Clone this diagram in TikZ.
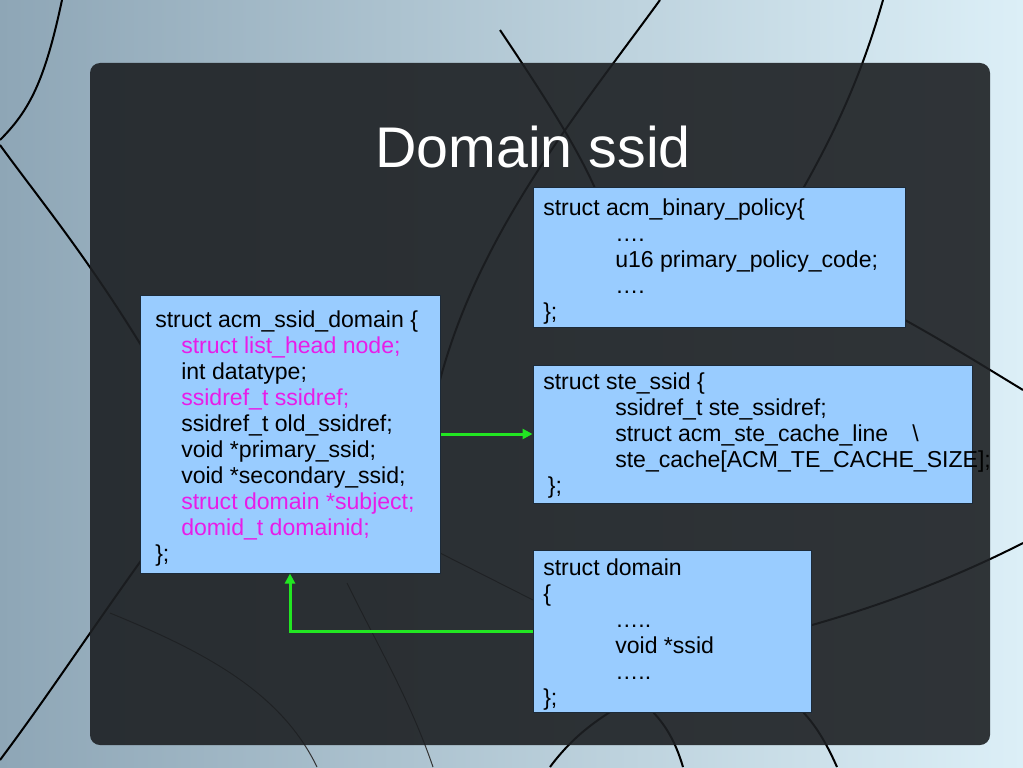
\documentclass[tikz,border=0pt]{standalone}
\usepackage{fontspec}
\setmainfont{Liberation Sans}
\usetikzlibrary{arrows.meta}
\definecolor{bgL}{HTML}{8EA6B6}
\definecolor{bgR}{HTML}{DCEFF7}
\definecolor{panelc}{HTML}{1D2023}
\definecolor{boxfill}{HTML}{99CCFF}
\definecolor{boxline}{HTML}{1C2A38}
\definecolor{arrowgreen}{HTML}{22E622}
\definecolor{hl}{HTML}{E81CE8}
\begin{document}
\begin{tikzpicture}[x=0.75pt,y=-0.75pt,
  curve/.style={line width=1.5pt,black},
  thincurve/.style={line width=0.75pt,black!80},
  panel/.style={fill=panelc,fill opacity=0.9,rounded corners=7.5pt},
  structbox/.style={draw=boxline,line width=0.75pt,fill=boxfill,inner sep=0pt,rectangle},
  code/.style={anchor=base west,inner sep=0pt,text=black,font=\fontsize{17.3}{19.5}\selectfont},
  link/.style={draw=arrowgreen,line width=2.25pt,-{Triangle[length=7.5pt,width=7.5pt]}},
  title/.style={text=white,font=\fontsize{43}{50}\selectfont,anchor=base,inner sep=0pt}
]
\useasboundingbox (0,0) rectangle (1023,767);
% background
\fill[left color=bgL,right color=bgR] (0,0) rectangle (1023,767);
% decorative curves
\draw[curve] (62,0) .. controls (45,80) and (30,110) .. (0,140);
\draw[curve] (0,145) .. controls (40,200) and (90,260) .. (150,360);
\draw[curve] (0,760) .. controls (60,680) and (110,600) .. (200,480);
\draw[thincurve] (110,613) .. controls (200,650) and (280,690) .. (317,767);
\draw[thincurve] (347,583) .. controls (380,650) and (410,700) .. (433,767);
\draw[curve] (500,30) .. controls (540,90) and (580,150) .. (600,200);
\draw[curve] (660,0) .. controls (580,110) and (480,230) .. (440,380);
\draw[curve] (883,0) .. controls (860,80) and (830,150) .. (760,260);
\draw[curve] (905,320) .. controls (950,345) and (990,370) .. (1023,390);
\draw[curve] (812,625) .. controls (900,600) and (970,570) .. (1023,543);
\draw[curve] (550,767) .. controls (570,740) and (590,725) .. (610,712);
\draw[curve] (683,767) .. controls (675,740) and (665,725) .. (653,712);
\draw[curve] (837,767) .. controls (825,740) and (815,725) .. (803,712);
\draw[thincurve] (440,553) -- (533,600);
% panel
\fill[panel] (90,63) rectangle (990,745);
% title
\node[title] (title) at (533,167) {Domain ssid};
% boxes
\node[structbox,minimum width=279pt,minimum height=105pt] (policy) at (719,257) {};
\node[structbox,minimum width=225pt,minimum height=208.5pt] (ssiddom) at (290,434) {};
\node[structbox,minimum width=329.25pt,minimum height=103.5pt] (stessid) at (752.5,434) {};
\node[structbox,minimum width=208.5pt,minimum height=121.5pt] (domain) at (672,631) {};
% texts
\node[code] (policytxt) at (543,215) {\vtop{%
  \hbox{struct acm\_binary\_policy\{}
  \hbox{\hspace*{54pt}….}
  \hbox{\hspace*{54pt}u16 primary\_policy\_code;}
  \hbox{\hspace*{54pt}….}
  \hbox{\};}}};
\node[code] (ssiddomtxt) at (155,327) {\vtop{%
  \hbox{struct acm\_ssid\_domain \{}
  \hbox{\hspace*{19.5pt}\textcolor{hl}{struct list\_head node;}}
  \hbox{\hspace*{19.5pt}int datatype;}
  \hbox{\hspace*{19.5pt}\textcolor{hl}{ssidref\_t ssidref;}}
  \hbox{\hspace*{19.5pt}ssidref\_t old\_ssidref;}
  \hbox{\hspace*{19.5pt}void *primary\_ssid;}
  \hbox{\hspace*{19.5pt}void *secondary\_ssid;}
  \hbox{\hspace*{19.5pt}\textcolor{hl}{struct domain *subject;}}
  \hbox{\hspace*{19.5pt}\textcolor{hl}{domid\_t domainid;}}
  \hbox{\};}}};
\node[code] (stessidtxt) at (543,389) {\vtop{%
  \hbox{struct ste\_ssid \{}
  \hbox{\hspace*{54pt}ssidref\_t ste\_ssidref;}
  \hbox{\hspace*{54pt}struct acm\_ste\_cache\_line\hspace*{18pt}\textbackslash}
  \hbox{\hspace*{54pt}ste\_cache[ACM\_TE\_CACHE\_SIZE];}
  \hbox{\hspace*{3.5pt}\};}}};
\node[code] (domaintxt) at (543,575) {\vtop{%
  \hbox{struct domain}
  \hbox{\{}
  \hbox{\hspace*{54pt}…..}
  \hbox{\hspace*{54pt}void *ssid}
  \hbox{\hspace*{54pt}…..}
  \hbox{\};}}};
% connectors
\draw[link] (ssiddom.east) -- (stessid.west);
\draw[link] (domain.west) -| (ssiddom.south);
\end{tikzpicture}
\end{document}
